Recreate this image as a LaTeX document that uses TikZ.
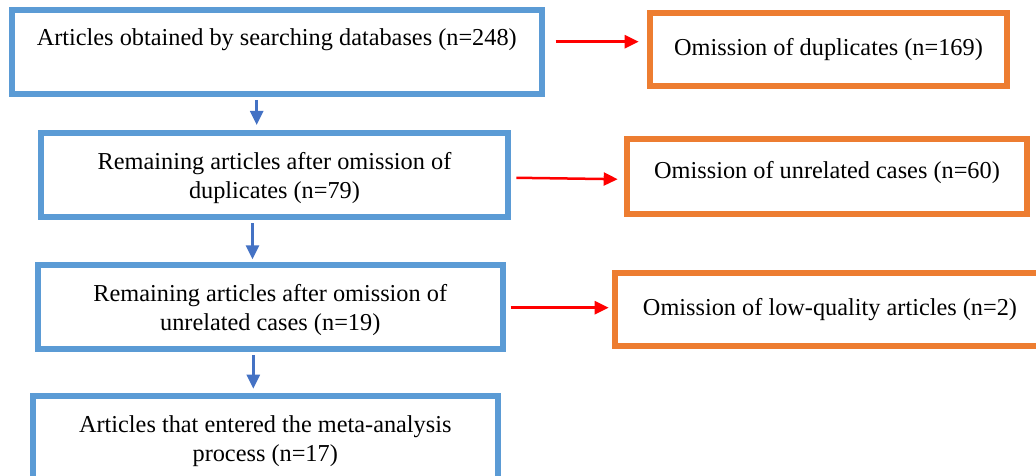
\documentclass[tikz,border=0pt]{standalone}
\usepackage{fontspec}
\setmainfont{Liberation Serif}
\usetikzlibrary{arrows.meta}
\definecolor{boxblue}{HTML}{5B9BD5}
\definecolor{boxorange}{HTML}{ED7D31}
\definecolor{arrblue}{HTML}{4472C4}
\definecolor{arrred}{HTML}{FF0000}
\newcommand{\topstrut}{\rule{0pt}{23pt}}
\begin{document}
\begin{tikzpicture}[x=1pt,y=-1pt,
  every node/.style={font=\fontsize{24.3}{29.5}\selectfont, align=center, inner sep=0pt},
  bluebox/.style={draw=boxblue, line width=6pt, fill=white},
  orangebox/.style={draw=boxorange, line width=6pt, fill=white},
  downarr/.style={draw=arrblue, line width=2.5pt, -{Triangle[length=14pt,width=13pt]}, shorten <=3pt},
  redarr/.style={draw=arrred, line width=2.5pt, -{Triangle[length=14pt,width=13pt]}}]
\useasboundingbox (0,0) rectangle (1036,476);
% blue boxes
\node[bluebox, minimum width=529.5pt, minimum height=84pt] (b1) at (276.75,52)
  {Articles obtained by searching databases (n=248)\\ \mbox{}};
\node[bluebox, minimum width=467pt, minimum height=84pt] (b2) at (274.5,175)
  {\topstrut Remaining articles after omission of\\ duplicates (n=79)};
\node[bluebox, minimum width=465.5pt, minimum height=84pt] (b3) at (270.25,307)
  {\topstrut Remaining articles after omission of\\ unrelated cases (n=19)};
\node[bluebox, minimum width=464.5pt, minimum height=84pt] (b4) at (265.25,438)
  {\topstrut Articles that entered the meta-analysis\\ process (n=17)};
% orange boxes
\node[orangebox, minimum width=357pt, minimum height=73pt] (o1) at (828.5,49.5)
  {Omission of duplicates (n=169)};
\node[orangebox, minimum width=400pt, minimum height=74.5pt] (o2) at (827,176.75)
  {Omission of unrelated cases (n=60)\rule[-13pt]{0pt}{13pt}};
\node[orangebox, minimum width=430pt, minimum height=73pt] (o3) at (830,309.5)
  {Omission of low-quality articles (n=2)};
% down arrows
\coordinate (xa) at (256.7,0);
\coordinate (xb) at (252.5,0);
\coordinate (xc) at (253.3,0);
\draw[downarr, shorten >=5pt] (b1.south -| xa) -- (b2.north -| xa);
\draw[downarr, shorten >=2.7pt] (b2.south -| xb) -- (b3.north -| xb);
\draw[downarr, shorten >=4.3pt] (b3.south -| xc) -- (b4.north -| xc);
% red arrows
\draw[redarr, shorten <=11.2pt, shorten >=8.3pt] (b1.east |- 0,41.7) -- (o1.west |- 0,41.7);
\draw[redarr, shorten <=5.3pt, shorten >=6.3pt] (b2.east |- 0,177.7) -- (o2.west |- 0,179.3);
\draw[redarr, shorten <=4.7pt, shorten >=3.3pt] (b3.east |- 0,307.7) -- (o3.west |- 0,307.7);
\end{tikzpicture}
\end{document}
